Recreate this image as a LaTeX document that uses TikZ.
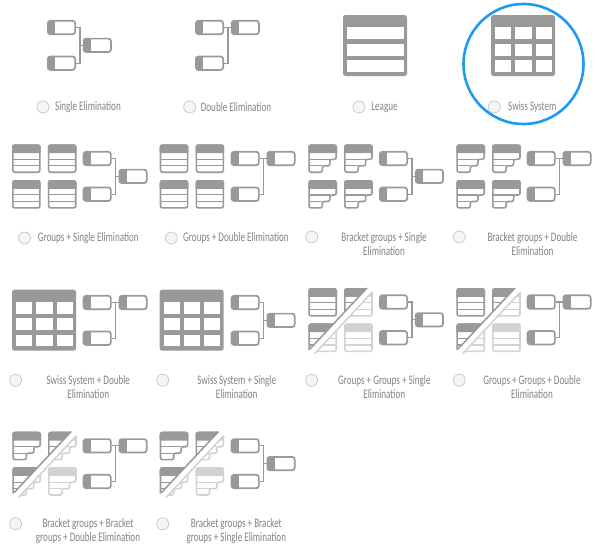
\documentclass[tikz,border=0pt]{standalone}
\usepackage{fontspec}
\setmainfont[FakeStretch=0.70]{Carlito}
\usetikzlibrary{calc}
\usetikzlibrary{positioning}

\definecolor{icongray}{HTML}{999999}
\definecolor{iconlight}{HTML}{D2D2D2}
\definecolor{textgray}{HTML}{7F8488}
\definecolor{ringblue}{HTML}{1E9BF0}

\tikzset{
  matchbox/.style = {draw=icongray,fill=white,line width=1.7pt,rounded corners=2.5pt,inner sep=0pt,
    minimum width=27.3pt,minimum height=13.4pt,
    path picture={\fill[icongray,sharp corners] (path picture bounding box.north west) rectangle ([xshift=7.5pt]path picture bounding box.south west);}},
  bracketline/.style = {draw=icongray,line width=1.2pt},
  radio/.style = {draw=black!22,fill=black!4,circle,line width=0.7pt,inner sep=0pt,minimum size=12pt},
  optlabel/.style = {text=textgray,align=center,inner sep=0pt,font=\fontsize{13}{14}\selectfont},
  % one final after two matches
  pics/singleelim/.style = {code={
    \node[matchbox] (-top) at (14.5,7.5) {};
    \node[matchbox] (-low) at (14.5,43.2) {};
    \node[matchbox] (-final) at (50.3,25.3) {};
    \coordinate (-hub) at (33,25.3);
    \draw[bracketline] (-top.east) -| (-hub) |- (-low.east);
    \draw[bracketline] (-hub) -- (-final.west);
  }},
  pics/doubleelim/.style = {code={
    \node[matchbox] (-top) at (14.5,7.5) {};
    \node[matchbox] (-low) at (14.5,43.2) {};
    \node[matchbox] (-final) at (50.3,7.5) {};
    \coordinate (-hub) at (33,7.5);
    \draw[bracketline] (-top.east) -- (-final.west);
    \draw[bracketline] (-hub) |- (-low.east);
  }},
  pics/grouptable/.style = {code={
    \draw[#1,line width=1.6pt,rounded corners=2pt] (0.8,0.8) rectangle (27.9,27.9);
    \filldraw[#1,line width=1.6pt] (0.8,8) [rounded corners=2pt] -- (0.8,0.8) -- (27.9,0.8) [sharp corners] -- (27.9,8) -- cycle;
    \draw[#1,line width=1.2pt] (0.8,14.8) -- (27.9,14.8) (0.8,21.5) -- (27.9,21.5);
  }},
  pics/bracketgroup/.style = {code={
    \draw[#1,line width=1.6pt,rounded corners=2pt] (0.8,0.8) -- (27.9,0.8) -- (27.9,15) -- (21.5,15) -- (21.5,21.5) -- (14,21.5) -- (14,27.9) -- (0.8,27.9) -- cycle;
    \filldraw[#1,line width=1.6pt] (0.8,8) [rounded corners=2pt] -- (0.8,0.8) -- (27.9,0.8) [sharp corners] -- (27.9,8) -- cycle;
    \draw[#1,line width=1.2pt] (0.8,15) -- (21.5,15) (0.8,21.5) -- (14,21.5);
  }},
  pics/leaguetable/.style = {code={
    \fill[icongray,rounded corners=2.5pt] (0,0) rectangle (64,61);
    \foreach \ya/\yb in {12.3/24.3,28.7/40.7,45/56.7}
      \fill[white] (4.3,\ya) rectangle (60.7,\yb);
  }},
  pics/swisstable/.style = {code={
    \fill[icongray,rounded corners=2.5pt] (0,0) rectangle (64,61);
    \foreach \ya/\yb in {12.3/24.3,28.7/40.7,45/56.7}
      \foreach \xa/\xb in {4.3/20.3,24.3/40.7,44.7/60.7}
        \fill[white] (\xa,\ya) rectangle (\xb,\yb);
  }},
  % four groups, cut by the diagonal band
  pics/splitset/.style = {code={
    \pic at (0,0) {#1=icongray};
    \pic at (35.8,35.4) {#1=iconlight};
    \begin{scope}
      \clip (-2,-2) -- (60.57,-2) -- (-2,64.96) -- cycle;
      \pic at (35.8,0) {#1=icongray};
      \pic at (0,35.4) {#1=icongray};
    \end{scope}
    \begin{scope}
      \clip (69.66,-2) -- (80,-2) -- (80,80) -- (-2,80) -- (-2,74.7) -- cycle;
      \pic at (35.8,0) {#1=iconlight};
      \pic at (0,35.4) {#1=iconlight};
    \end{scope}
    \draw[icongray,line width=1.5pt] (1.7,61) -- (58.7,0);
    \draw[iconlight,line width=1.5pt] (6.4,65.7) -- (63.4,4.7);
  }},
  pics/fourgroups/.style = {code={
    \pic at (0,0) {#1=icongray};
    \pic at (35.8,0) {#1=icongray};
    \pic at (0,35.7) {#1=icongray};
    \pic at (35.8,35.7) {#1=icongray};
  }}
}

\begin{document}
\begin{tikzpicture}[x=1pt,y=-1pt]
  \useasboundingbox[fill=white] (0,0) rectangle (600,554);

  % first row
  \pic (e1) at (47,20) {singleelim};
  \pic (e2) at (195,20) {doubleelim};
  \pic (lg) at (343,15) {leaguetable};
  \pic (sw) at (491,15) {swisstable};
  \node[radio] (r1) at (43,107) {};
  \node[radio] (r2) at (189.7,107) {};
  \node[radio] (r3) at (359,107) {};
  \node[radio] (r4) at (494.3,107) {};
  \node[optlabel] (t1) at (88,107) {Single Elimination};
  \node[optlabel] (t2) at (236,107) {Double Elimination};
  \node[optlabel] (t3) at (384.5,107) {League};
  \node[optlabel] (t4) at (532.3,107) {Swiss System};
  \node[draw=ringblue,line width=2.6pt,circle,inner sep=0pt,minimum size=120pt] (ring) at (523.5,64) {};

  % second row
  \pic at (12,144.3) {fourgroups=grouptable};
  \pic at (159.7,144.3) {fourgroups=grouptable};
  \pic at (308.3,144.3) {fourgroups=bracketgroup};
  \pic at (456.3,144.3) {fourgroups=bracketgroup};
  \pic (e3) at (82.7,151) {singleelim};
  \pic (e4) at (230.7,151) {doubleelim};
  \pic (e5) at (379,151) {singleelim};
  \pic (e6) at (526.7,151) {doubleelim};
  \node[radio] (r5) at (24.5,238) {};
  \node[radio] (r6) at (171.3,238) {};
  \node[radio] (r7) at (311.7,237) {};
  \node[radio] (r8) at (459.3,237) {};
  \node[optlabel] (t5) at (88.3,238) {Groups + Single Elimination};
  \node[optlabel] (t6) at (236,238) {Groups + Double Elimination};
  \node[optlabel] (t7) at (384,243.7) {Bracket groups + Single\\Elimination};
  \node[optlabel] (t8) at (532.5,243.7) {Bracket groups + Double\\Elimination};

  % third row
  \pic (sw2) at (12,289.7) {swisstable};
  \pic (sw3) at (159.7,289.7) {swisstable};
  \pic at (308.3,288) {splitset=grouptable};
  \pic at (456.3,288) {splitset=grouptable};
  \pic (e7) at (82.7,295) {doubleelim};
  \pic (e8) at (230.7,295) {singleelim};
  \pic (e9) at (379,294.5) {singleelim};
  \pic (e10) at (526.7,294.5) {doubleelim};
  \node[radio] (r9) at (15.7,380.3) {};
  \node[radio] (r10) at (162.7,380.3) {};
  \node[radio] (r11) at (311.7,380.3) {};
  \node[radio] (r12) at (459.3,380.3) {};
  \node[optlabel] (t9) at (88.3,387.5) {Swiss System + Double\\Elimination};
  \node[optlabel] (t10) at (236.7,387.5) {Swiss System + Single\\Elimination};
  \node[optlabel] (t11) at (384.3,387.5) {Groups + Groups + Single\\Elimination};
  \node[optlabel] (t12) at (532,387.5) {Groups + Groups + Double\\Elimination};

  % fourth row
  \pic at (12.3,431.7) {splitset=bracketgroup};
  \pic at (159.7,431.7) {splitset=bracketgroup};
  \pic (e11) at (82.7,438.3) {doubleelim};
  \pic (e12) at (230.7,438.3) {singleelim};
  \node[radio] (r13) at (15.7,523.7) {};
  \node[radio] (r14) at (162.7,523.7) {};
  \node[optlabel] (t13) at (88,531) {Bracket groups + Bracket\\groups + Double Elimination};
  \node[optlabel] (t14) at (236.3,531) {Bracket groups + Bracket\\groups + Single Elimination};
\end{tikzpicture}
\end{document}
